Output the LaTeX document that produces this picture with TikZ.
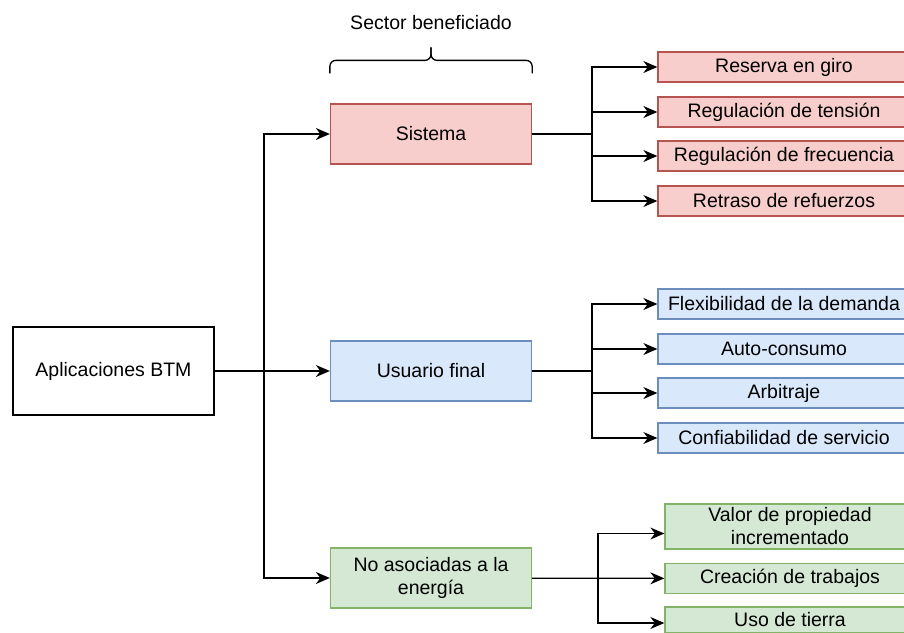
\documentclass[tikz,border=0pt]{standalone}
\usepackage{fontspec}
\setmainfont{Liberation Sans}
\usepackage{tikz}
\usetikzlibrary{calc, arrows.meta}
\definecolor{redfill}{HTML}{F8CECC}
\definecolor{redline}{HTML}{B85450}
\definecolor{bluefill}{HTML}{DAE8FC}
\definecolor{blueline}{HTML}{6C8EBF}
\definecolor{greenfill}{HTML}{D5E8D4}
\definecolor{greenline}{HTML}{82B366}

\begin{document}
\begin{tikzpicture}[x=1pt, y=-1pt, line width=1.3pt,
    every node/.style={font=\fontsize{19.5}{23}\selectfont, align=center, inner sep=0pt},
    arr/.style={-{Stealth[length=14pt, width=12pt, inset=4.5pt]}},
    mainbox/.style={draw, fill=white, minimum width=201pt, minimum height=88pt},
    sector/.style={draw, minimum width=201pt, minimum height=60pt},
    sub/.style={draw, minimum width=252pt, minimum height=30pt},
    redbox/.style={fill=redfill, draw=redline},
    bluebox/.style={fill=bluefill, draw=blueline},
    greenbox/.style={fill=greenfill, draw=greenline}]
    \useasboundingbox (0,0) rectangle (904,632);
    \clip (0,0) rectangle (904,632);
    % sectors
    \node[mainbox] (btm) at (113.5,371) {Aplicaciones BTM};
    \node[sector, redbox] (sis) at (431,134) {Sistema};
    \node[sector, bluebox] (usu) at (431,371) {Usuario final};
    \node[sector, greenbox] (noa) at (431,578) {No asociadas a la\\energía};
    \node (title) at (431,23) {Sector beneficiado};
    \draw[rounded corners=6pt] ($(sis.north west)+(0,-30)$) -- ($(sis.north west)+(0,-43)$) -- ($(sis.north)+(0,-43)$) -- ($(sis.north)+(0,-56)$);
    \draw[rounded corners=6pt] ($(sis.north east)+(0,-30)$) -- ($(sis.north east)+(0,-43)$) -- ($(sis.north)+(0,-43)$) -- ($(sis.north)+(0,-56)$);
    % applications
    \node[sub, redbox] (r1) at (784,67) {Reserva en giro};
    \node[sub, redbox] (r2) at (784,112) {Regulación de tensión};
    \node[sub, redbox] (r3) at (784,156) {Regulación de frecuencia};
    \node[sub, redbox] (r4) at (784,201) {Retraso de refuerzos};
    \node[sub, bluebox] (b1) at (784,304) {Flexibilidad de la demanda};
    \node[sub, bluebox] (b2) at (784,349) {Auto-consumo};
    \node[sub, bluebox] (b3) at (784,393) {Arbitraje};
    \node[sub, bluebox] (b4) at (784,438) {Confiabilidad de servicio};
    \node[sub, greenbox, minimum width=250pt, minimum height=45pt] (g1) at (790,526.5) {Valor de propiedad\\incrementado};
    \node[sub, greenbox, minimum width=250pt] (g2) at (790,578.5) {Creación de trabajos};
    \node[sub, greenbox, minimum width=250pt, minimum height=26pt] (g3) at (790,620) {Uso de tierra};
    % connectors
    \coordinate (jA) at (264,371);
    \coordinate (jS) at (592,134);
    \coordinate (jU) at (592,371);
    \coordinate (jN) at (598,578);
    \draw[arr] (btm) -- (usu);
    \draw[arr] (jA) |- (sis.west);
    \draw[arr] (jA) |- (noa.west);
    \draw (sis.east) -- (jS);
    \foreach \b in {r1,r2,r3,r4}
        \draw[arr] (jS) |- (\b.west);
    \draw (usu.east) -- (jU);
    \foreach \b in {b1,b2,b3,b4}
        \draw[arr] (jU) |- (\b.west);
    \draw[arr] (noa) -- (g2);
    \draw[arr] (jN) |- ($(g1.west)+(0,7)$);
    \draw[arr] (jN) |- ($(g3.west)+(0,3)$);
\end{tikzpicture}
\end{document}
